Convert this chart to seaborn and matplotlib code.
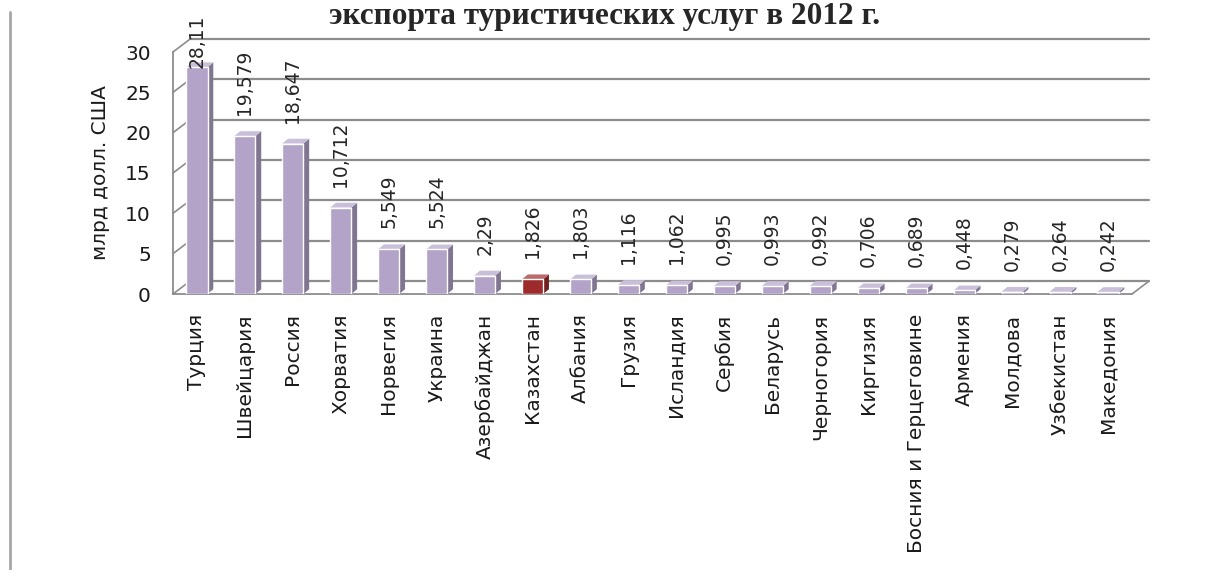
import matplotlib
matplotlib.use("Agg")
import matplotlib.pyplot as plt
from matplotlib.patches import Polygon
from matplotlib.lines import Line2D
import matplotlib.colors as mcolors
import pandas as pd
import seaborn as sns

# date: exportul de servicii turistice, mlrd. USD, 2012
tari = ["Турция", "Швейцария", "Россия", "Хорватия", "Норвегия", "Украина",
        "Азербайджан", "Казахстан", "Албания", "Грузия", "Исландия", "Сербия",
        "Беларусь", "Черногория", "Киргизия", "Босния и Герцеговине", "Армения",
        "Молдова", "Узбекистан", "Македония"]
valori = [28.11, 19.579, 18.647, 10.712, 5.549, 5.524, 2.29, 1.826, 1.803, 1.116,
          1.062, 0.995, 0.993, 0.992, 0.706, 0.689, 0.448, 0.279, 0.264, 0.242]
evidentiat = "Казахстан"
titlu = "экспорта туристических услуг в 2012 г."
eticheta_y = "млрд долл. США"

CULOARE = "#b3a3c9"
CULOARE_KZ = "#9e2b2b"
GRI = "#8c8c8c"

# adancimea "3D" in unitati de date
DX_FUND, DY_FUND = 0.355, 1.6
DX_BARA, DY_BARA = 0.12, 0.6


def nuanta(culoare, factor):
    r, g, b = mcolors.to_rgb(culoare)
    if factor < 1:
        return (r * factor, g * factor, b * factor)
    return (r + (1 - r) * (factor - 1), g + (1 - g) * (factor - 1), b + (1 - b) * (factor - 1))


def deseneaza():
    sns.set_style("white")
    plt.rcParams['font.family'] = ['DejaVu Sans']

    df = pd.DataFrame({"tara": tari, "valoare": valori})
    paleta = {t: (CULOARE_KZ if t == evidentiat else CULOARE) for t in tari}

    fig = plt.figure(figsize=(12.08, 5.7), dpi=100)
    ax = fig.add_axes([173 / 1208, (570 - 294) / 570, 959 / 1208, 242 / 570])

    # peretele din spate si podeaua
    n = len(tari)
    for v in range(0, 31, 5):
        ax.plot([-0.5 + DX_FUND, n - 0.5 + DX_FUND], [v + DY_FUND, v + DY_FUND],
                color=GRI, lw=1.6, clip_on=False, zorder=0)
        ax.plot([-0.5, -0.5 + DX_FUND], [v, v + DY_FUND], color=GRI, lw=1.2,
                clip_on=False, zorder=0)
    ax.plot([n - 0.5, n - 0.5 + DX_FUND], [0, DY_FUND], color=GRI, lw=1.2,
            clip_on=False, zorder=0)

    sns.barplot(data=df, x="tara", y="valoare", hue="tara", palette=paleta,
                legend=False, width=0.44, saturation=1, ax=ax, zorder=3)

    # fete laterale si de sus pentru efectul 3D
    for p in ax.patches:
        x0, w, h = p.get_x(), p.get_width(), p.get_height()
        c = p.get_facecolor()
        lateral = Polygon([(x0 + w, 0), (x0 + w + DX_BARA, DY_BARA),
                           (x0 + w + DX_BARA, h + DY_BARA), (x0 + w, h)],
                          closed=True, facecolor=nuanta(c, 0.72), edgecolor="none",
                          zorder=2, clip_on=False)
        sus = Polygon([(x0, h), (x0 + DX_BARA, h + DY_BARA),
                       (x0 + w + DX_BARA, h + DY_BARA), (x0 + w, h)],
                      closed=True, facecolor=nuanta(c, 1.3), edgecolor="none",
                      zorder=2, clip_on=False)
        ax.add_patch(lateral)
        ax.add_patch(sus)

    # etichete cu valori
    for i, v in enumerate(valori):
        y = min(v + 2.6, 28.0)
        ax.text(i, y, str(v).replace(".", ","), rotation=90, ha="center", va="bottom",
                fontsize=13.5, color="#262626", zorder=5, clip_on=False)

    ax.set_ylim(0, 30)
    ax.set_xlim(-0.5, n - 0.5)
    ax.set_yticks(range(0, 31, 5))
    ax.set_xticks(range(n))
    ax.set_xticklabels(tari, rotation=90, va="top", ha="center")
    ax.set_xticks([i - 0.5 for i in range(n + 1)], minor=True)
    ax.tick_params(axis="x", which="major", length=0, pad=14, labelsize=14.5,
                   labelcolor="#1a1a1a")
    ax.tick_params(axis="x", which="minor", length=6, width=1.2, color=GRI, direction="out")
    ax.tick_params(axis="y", length=6, width=1.2, color=GRI, direction="out", pad=10,
                   labelsize=14.5, labelcolor="#1a1a1a")
    ax.set_xlabel("")
    ax.set_ylabel(eticheta_y, fontsize=14.5, color="#1a1a1a")
    ax.yaxis.set_label_coords(-0.066, 0.5)

    for s in ["top", "right"]:
        ax.spines[s].set_visible(False)
    for s in ["left", "bottom"]:
        ax.spines[s].set_color(GRI)
        ax.spines[s].set_linewidth(1.3)
    ax.set_facecolor("none")

    # linia din stanga a casetei si titlul
    fig.add_artist(Line2D([10 / 1208, 10 / 1208], [0, 1 - 12 / 570], color="#a6a6a6", lw=2))
    fig.text(605 / 1208, 1 - 24 / 570, titlu, ha="center", va="baseline",
             fontsize=22.5, fontweight="bold", family=["Liberation Serif", "DejaVu Serif"])

    fig.savefig("out.png", dpi=100)


deseneaza()
